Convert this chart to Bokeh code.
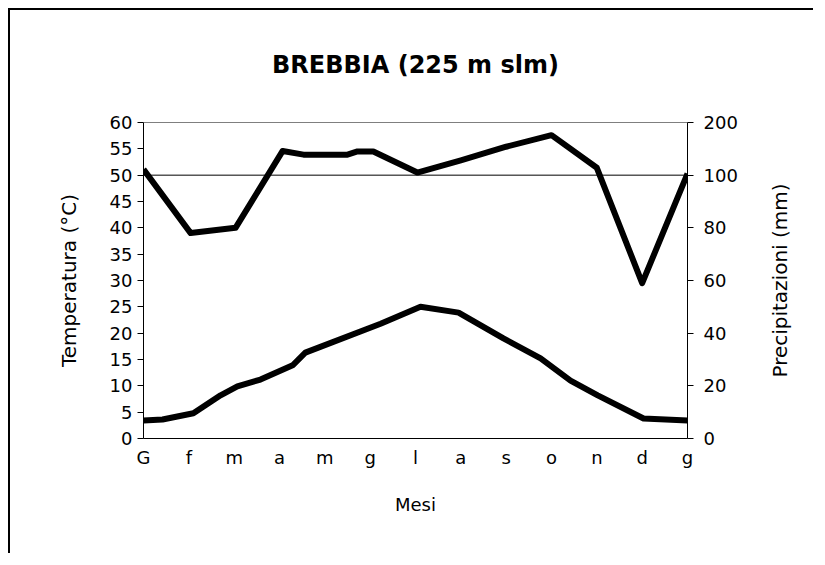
import math
from bokeh.plotting import figure
from bokeh.models import Range1d, LinearAxis, FixedTicker, Span, Label
from bokeh.embed import file_html
from bokeh.resources import INLINE

# ---- data ----
months = ["G", "f", "m", "a", "m", "g", "l", "a", "s", "o", "n", "d", "g"]
temp_x = [0, 0.42, 1.10, 1.70, 2.07, 2.58, 3.29, 3.57, 5.23, 6.11, 6.95, 7.94, 8.76, 9.42, 10.02, 11.03, 12]
temp_c = [3.4, 3.6, 4.8, 8.2, 9.9, 11.2, 13.9, 16.3, 21.8, 25.0, 23.9, 19.0, 15.2, 11.0, 8.2, 3.8, 3.4]
prec_x = [0, 1.04, 2.03, 3.07, 3.53, 4.5, 4.72, 5.07, 6.04, 7.0, 8.0, 9.0, 10.0, 11.0, 12]
prec_mm = [111, 78, 80, 146, 139, 139, 145, 145, 105, 128, 154, 176, 114, 59, 103]
left_ticks = list(range(0, 61, 5))
right_tick_mm = [0, 20, 40, 60, 80, 100, 200]
title_text = "BREBBIA (225 m slm)"


def mm_to_axis(mm):
    # Walter-Lieth style scale: 2 mm = 1 degC up to 100 mm, then 10 mm = 1 degC
    return mm / 2.0 if mm <= 100 else 50 + (mm - 100) / 10.0


FONT = "DejaVu Sans"
XMIN, XMAX, YMIN, YMAX = 0, 12, 0, 60

p = figure(width=805, height=545, x_range=Range1d(XMIN, XMAX), y_range=Range1d(YMIN, YMAX),
           output_backend="svg", toolbar_location=None,
           min_border_left=133, min_border_right=128, min_border_top=112, min_border_bottom=117,
           styles={"border-top": "2px solid black", "border-left": "2px solid black",
                   "margin-top": "8px", "margin-left": "8px"})

p.grid.visible = False
p.outline_line_color = None
p.background_fill_color = "white"
p.border_fill_color = "white"

xa = p.below[0]
ya = p.left[0]

# title: label of a bare axis above the frame
ta = LinearAxis(ticker=FixedTicker(ticks=[]), axis_label=title_text)
ta.axis_line_color = None
ta.major_tick_out = 0
ta.minor_tick_out = 0
ta.major_label_text_font_size = "1px"
ta.axis_label_standoff = 44
ta.axis_label_text_font = FONT
ta.axis_label_text_font_size = "24px"
ta.axis_label_text_font_style = "bold"
ta.axis_label_text_color = "black"
p.add_layout(ta, "above")

# x axis
xa.ticker = FixedTicker(ticks=list(range(13)))
xa.major_label_overrides = {i: m for i, m in enumerate(months)}
xa.major_tick_out = 0
xa.major_tick_in = 0
xa.minor_tick_out = 0
xa.axis_label = "Mesi"
xa.axis_label_standoff = 23
xa.major_label_standoff = 8

# left axis
ya.ticker = FixedTicker(ticks=left_ticks)
ya.major_tick_out = 6
ya.major_tick_in = 0
ya.minor_tick_out = 0
ya.axis_label = "Temperatura (°C)"
ya.axis_label_standoff = 26
ya.major_label_standoff = 5

# right axis (precipitation scale)
ra = LinearAxis(ticker=FixedTicker(ticks=[mm_to_axis(v) for v in right_tick_mm]),
                major_label_overrides={mm_to_axis(v): str(v) for v in right_tick_mm})
ra.major_tick_out = 6
ra.major_tick_in = 0
ra.minor_tick_out = 0
ra.major_label_standoff = 10
p.add_layout(ra, "right")

for ax in (xa, ya, ra):
    ax.axis_line_color = "black"
    ax.axis_line_width = 1
    ax.major_tick_line_color = "black"
    ax.major_label_text_font = FONT
    ax.major_label_text_font_size = "18px"
    ax.major_label_text_color = "black"
    ax.axis_label_text_font = FONT
    ax.axis_label_text_font_size = "20px"
    ax.axis_label_text_font_style = "normal"
    ax.axis_label_text_color = "black"
xa.axis_label_text_font_size = "18px"

# right title, reading bottom-to-top, drawn in the right side panel
p.add_layout(Label(x=XMAX, y=(YMIN + YMAX) / 2, x_offset=92, text="Precipitazioni (mm)",
                   angle=math.pi / 2, text_font=FONT, text_font_size="20px",
                   text_color="black", text_align="center", text_baseline="middle"), "right")

# frame top and 50 degC / 100 mm reference line
p.add_layout(Span(location=60, dimension="width", line_color="black", line_width=1))
p.add_layout(Span(location=50, dimension="width", line_color="black", line_width=1))

p.line(temp_x, temp_c, line_color="black", line_width=6, line_join="round")
p.line(prec_x, [mm_to_axis(v) for v in prec_mm], line_color="black", line_width=6, line_join="round")

open("out.html", "w").write(file_html(p, INLINE))
